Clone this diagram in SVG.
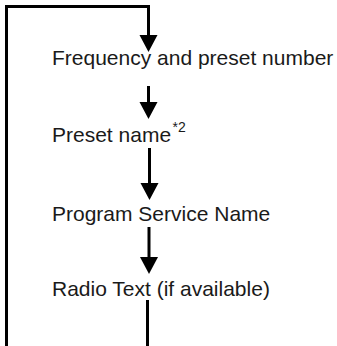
<svg xmlns="http://www.w3.org/2000/svg" width="337" height="346" viewBox="0 0 337 346">
<defs>
<style>
.ln{fill:none;stroke:#000;stroke-width:3}
.t{font-family:"Liberation Sans",Arial,sans-serif;font-size:21px;fill:#1a1a1a}
.sup{font-family:"Liberation Sans",Arial,sans-serif;font-size:14px;fill:#1a1a1a}
</style>
</defs>
<rect width="337" height="346" fill="#fff"/>
<g id="connectors">
<path class="ln" d="M6.5,346 V6.5 H148.5 V35"/>
<polygon points="139.5,35 157.5,35 148.5,52" fill="#000"/>
<path class="ln" d="M148.5,86 V102"/>
<polygon points="139.5,102 157.5,102 148.5,119" fill="#000"/>
<path class="ln" d="M149.5,148 V183"/>
<polygon points="140.5,183 158.5,183 149.5,200" fill="#000"/>
<path class="ln" d="M149,227 V257"/>
<polygon points="140,257 158,257 149,274" fill="#000"/>
<path class="ln" d="M147.5,300 V346"/>
</g>
<g id="n1"><text class="t" x="52" y="65">Frequency and preset number</text></g>
<g id="n2"><text class="t" x="52" y="141.5">Preset name</text><text class="sup" x="172.5" y="131.5">*2</text></g>
<g id="n3"><text class="t" x="52" y="221">Program Service Name</text></g>
<g id="n4"><text class="t" x="52" y="296">Radio Text (if available)</text></g>
</svg>
